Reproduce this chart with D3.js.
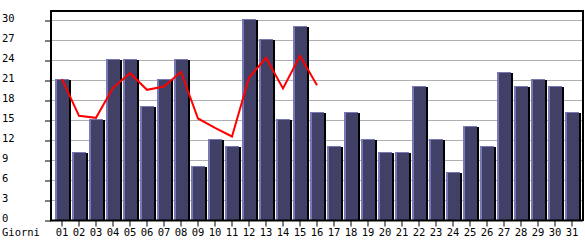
<!DOCTYPE html>
<html>
<head>
<meta charset="utf-8">
<script src="https://cdn.jsdelivr.net/npm/d3@7"></script>
<style>
  body { margin: 0; background: #fff; }
  svg { display: block; }
  text { font-family: "DejaVu Sans Mono", monospace; font-size: 10.5px; fill: #000; }
</style>
</head>
<body>
<svg id="chart"></svg>
<script>
const width = 585;
const height = 240;

// days of the month
const days = ["01","02","03","04","05","06","07","08","09","10","11","12","13","14","15","16",
              "17","18","19","20","21","22","23","24","25","26","27","28","29","30","31"];
// bar values
const visits = [21,10,15,24,24,17,21,24,8,12,11,30,27,15,29,16,
                11,16,12,10,10,20,12,7,14,11,22,20,21,20,16];
// red line (only first 16 days)
const average = [21.2,15.7,15.4,19.9,22.1,19.6,20.1,22.3,15.3,13.9,12.6,21.4,24.4,19.8,24.7,20.3];
const yTicks = [0,3,6,9,12,15,18,21,24,27,30];

const svg = d3.select("#chart")
    .attr("width", width)
    .attr("height", height);

const x = d3.scaleBand()
    .domain(days)
    .range([53.5, 580.5])
    .padding(0);

const y = d3.scaleLinear()
    .domain([0, 30])
    .range([220.5, 20.5]);

// grid lines
svg.append("g")
    .selectAll("line")
    .data(yTicks.filter(d => d > 0))
    .join("line")
    .attr("x1", 51)
    .attr("x2", 583)
    .attr("y1", d => y(d))
    .attr("y2", d => y(d))
    .attr("stroke", "#b0b0b0")
    .attr("stroke-width", 1);

// bars
const bars = svg.append("g")
    .selectAll("g")
    .data(days.map((d, i) => ({ day: d, value: visits[i] })))
    .join("g")
    .attr("shape-rendering", "crispEdges");

bars.append("rect")
    .attr("x", d => x(d.day) + 1.5)
    .attr("y", d => y(d.value) - 1.5)
    .attr("width", 14)
    .attr("height", d => 221 - (y(d.value) - 1.5))
    .attr("fill", "#7878b4");

bars.append("rect")
    .attr("x", d => x(d.day) + 3)
    .attr("y", d => y(d.value) - 0.5)
    .attr("width", 12.5)
    .attr("height", d => 221 - (y(d.value) - 0.5))
    .attr("fill", "#414168");

bars.append("rect")
    .attr("x", d => x(d.day) + 15.5)
    .attr("y", d => y(d.value) - 0.5)
    .attr("width", 2)
    .attr("height", d => 221 - (y(d.value) - 0.5))
    .attr("fill", "#000");

// red line
const line = d3.line()
    .x((d, i) => x(days[i]) + x.bandwidth() / 2)
    .y(d => y(d));

svg.append("path")
    .datum(average)
    .attr("d", line)
    .attr("fill", "none")
    .attr("stroke", "#ff0000")
    .attr("stroke-width", 2);

// frame (top and right)
svg.append("path")
    .attr("d", "M51,11H583V221")
    .attr("fill", "none")
    .attr("stroke", "#000")
    .attr("stroke-width", 2);

// y axis
const yAxis = svg.append("g")
    .attr("transform", "translate(51,0)")
    .call(d3.axisLeft(y).tickValues(yTicks).tickSize(6).tickSizeOuter(0).tickPadding(0));

yAxis.select(".domain").attr("stroke-width", 2).attr("d", "M0,10V221");
yAxis.selectAll(".tick line").attr("stroke", "#000");
yAxis.selectAll(".tick text")
    .attr("x", -49)
    .attr("dy", "0.1em")
    .attr("text-anchor", "start")
    .style("font-family", "DejaVu Sans Mono")
    .style("font-size", "10.5px");

// x axis
const xAxis = svg.append("g")
    .attr("transform", "translate(0,220.5)")
    .call(d3.axisBottom(x).tickSize(6).tickSizeOuter(0).tickPadding(2));

xAxis.select(".domain").attr("stroke-width", 2).attr("d", "M50,0H583");
xAxis.selectAll(".tick text")
    .style("font-family", "DejaVu Sans Mono")
    .style("font-size", "10.5px");

svg.append("text")
    .attr("x", 2)
    .attr("y", 236)
    .text("Giorni");
</script>
</body>
</html>
